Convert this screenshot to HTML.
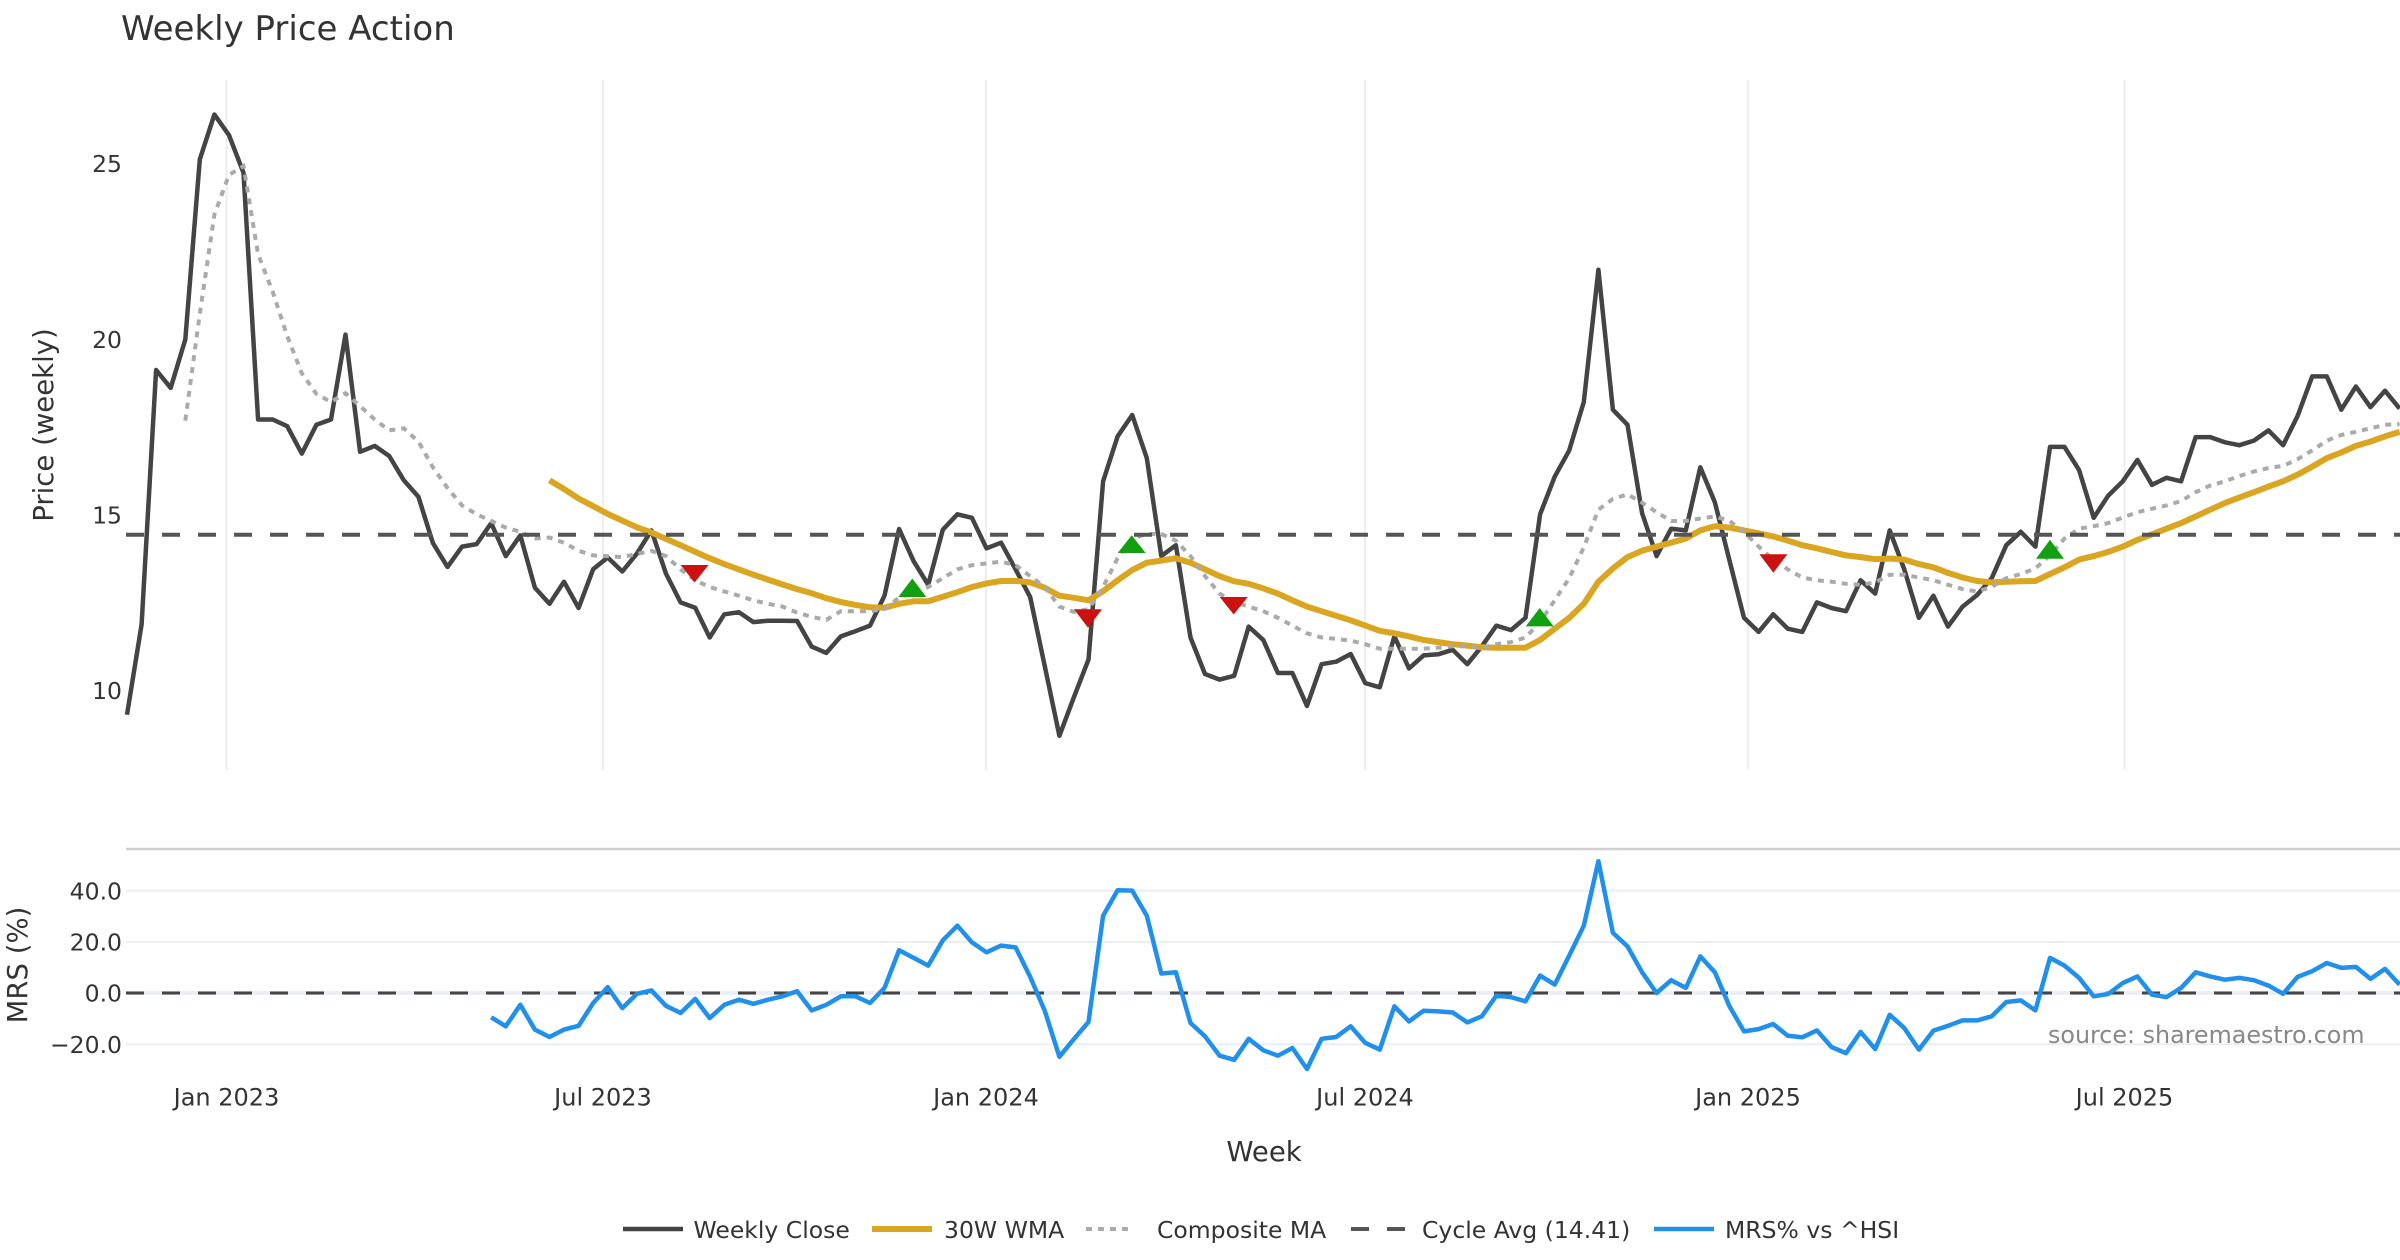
<!DOCTYPE html>
<html>
<head>
<meta charset="utf-8">
<style>
  html,body{margin:0;padding:0;background:#fff;}
  svg{display:block;}
  text{font-family:"DejaVu Sans","Liberation Sans",sans-serif;fill:#333;}
</style>
</head>
<body>
<svg id="chart" width="2400" height="1260" viewBox="0 0 2400 1260" xmlns="http://www.w3.org/2000/svg">
  <rect x="0" y="0" width="2400" height="1260" fill="#fff"/>

  <!-- Title -->
  <text x="121" y="40" font-size="34">Weekly Price Action</text>

  <!-- Top panel vertical gridlines -->
  <g stroke="#ebeef3" stroke-width="2">
    <line x1="226.5" y1="80" x2="226.5" y2="770"/>
    <line x1="603" y1="80" x2="603" y2="770"/>
    <line x1="986" y1="80" x2="986" y2="770"/>
    <line x1="1365" y1="80" x2="1365" y2="770"/>
    <line x1="1748" y1="80" x2="1748" y2="770"/>
    <line x1="2124.5" y1="80" x2="2124.5" y2="770"/>
  </g>

  <!-- Top y tick labels -->
  <g font-size="23.5" text-anchor="end">
    <text x="122" y="172">25</text>
    <text x="122" y="348">20</text>
    <text x="122" y="523.5">15</text>
    <text x="122" y="699">10</text>
  </g>

  <!-- Y axis title top -->
  <text transform="translate(53,425) rotate(-90)" font-size="27.5" text-anchor="middle">Price (weekly)</text>

  <!-- Series top -->
  <path id="pClose" fill="none" stroke="#444444" stroke-width="4.5" stroke-linejoin="round"/>
  <path id="pWma" fill="none" stroke="#DAA520" stroke-width="6" stroke-linejoin="round"/>
  <path id="pComp" fill="none" stroke="#aaaaaa" stroke-width="4" stroke-dasharray="6 6"/>
  <line x1="126" y1="534.8" x2="2400" y2="534.8" stroke="#555555" stroke-width="4" stroke-dasharray="18 18"/>

  <!-- Markers -->
  <g fill="#cc1111">
    <polygon points="680.6,565 708.6,565 694.6,582.5"/>
    <polygon points="1074,609.3 1102,609.3 1088,627.7"/>
    <polygon points="1219.7,597 1247.7,597 1233.7,614.5"/>
    <polygon points="1759.4,554.3 1787.4,554.3 1773.4,572.7"/>
  </g>
  <g fill="#12a012">
    <polygon points="898.3,597 926.3,597 912.3,578.5"/>
    <polygon points="1117.7,553 1145.7,553 1131.7,535.3"/>
    <polygon points="1525.7,626.4 1553.7,626.4 1539.7,608"/>
    <polygon points="2036,558.7 2064,558.7 2050,539.7"/>
  </g>

  <!-- Bottom panel -->
  <line x1="126" y1="849" x2="2400" y2="849" stroke="#d0d0d0" stroke-width="2.5"/>
  <g stroke="#ebeef3" stroke-width="2">
    <line x1="126" y1="890.7" x2="2400" y2="890.7"/>
    <line x1="126" y1="942" x2="2400" y2="942"/>
    <line x1="126" y1="1044.3" x2="2400" y2="1044.3"/>
  </g>
  <line x1="126" y1="993" x2="2400" y2="993" stroke="#ebeef3" stroke-width="4"/>
  <line x1="126" y1="993" x2="2400" y2="993" stroke="#444444" stroke-width="3" stroke-dasharray="18 18"/>

  <g font-size="23.5" text-anchor="end">
    <text x="122" y="899.3">40.0</text>
    <text x="122" y="950.6">20.0</text>
    <text x="122" y="1001.6">0.0</text>
    <text x="122" y="1053">−20.0</text>
  </g>
  <text transform="translate(27,965) rotate(-90)" font-size="27.5" text-anchor="middle">MRS (%)</text>

  <path id="pMrs" fill="none" stroke="#2090ec" stroke-width="4.5" stroke-linejoin="round"/>

  <text x="2048" y="1043" font-size="23.8" style="fill:#888888">source: sharemaestro.com</text>

  <!-- X tick labels -->
  <g font-size="24" text-anchor="middle">
    <text x="226.5" y="1105.5">Jan 2023</text>
    <text x="603" y="1105.5">Jul 2023</text>
    <text x="986" y="1105.5">Jan 2024</text>
    <text x="1365" y="1105.5">Jul 2024</text>
    <text x="1748" y="1105.5">Jan 2025</text>
    <text x="2124.5" y="1105.5">Jul 2025</text>
  </g>
  <text x="1264" y="1161" font-size="27.5" text-anchor="middle">Week</text>

  <!-- Legend -->
  <line x1="623" y1="1229" x2="683" y2="1229" stroke="#444444" stroke-width="4.5"/>
  <text x="693.5" y="1238" font-size="23.5">Weekly Close</text>
  <line x1="872" y1="1229" x2="932" y2="1229" stroke="#DAA520" stroke-width="6"/>
  <text x="944" y="1238" font-size="23.5">30W WMA</text>
  <line x1="1086" y1="1229" x2="1130" y2="1229" stroke="#aaaaaa" stroke-width="4" stroke-dasharray="6 6"/>
  <text x="1157" y="1238" font-size="23.5">Composite MA</text>
  <line x1="1351" y1="1229" x2="1405" y2="1229" stroke="#555555" stroke-width="4" stroke-dasharray="18 18"/>
  <text x="1422" y="1238" font-size="23.5">Cycle Avg (14.41)</text>
  <line x1="1654" y1="1229" x2="1714" y2="1229" stroke="#2090ec" stroke-width="4.5"/>
  <text x="1725" y="1238" font-size="23.5">MRS% vs ^HSI</text>
</svg>
<script>
(function(){
  var X=function(i){return 127+14.568*i;};
  var YT=function(v){return 515-(v-15)*35.1;};
  var YB=function(v){return 993-v*2.56;};
  function mk(arr,start,yf){
    var s='';
    for(var k=0;k<arr.length;k++){
      s+=(k?'L':'M')+X(start+k).toFixed(1)+','+yf(arr[k]).toFixed(1);
    }
    return s;
  }
  var close=[9.31,11.88,19.13,18.62,20.0,25.13,26.41,25.82,24.75,17.72,17.72,17.53,16.75,17.57,17.72,20.14,16.80,16.97,16.68,15.99,
  15.52,14.20,13.52,14.10,14.17,14.77,13.83,14.42,12.93,12.47,13.10,12.35,13.46,13.79,13.39,13.90,14.56,13.33,12.51,12.36,
  11.51,12.17,12.23,11.95,11.99,11.99,11.98,11.25,11.07,11.54,11.69,11.85,12.70,14.60,13.68,13.01,14.58,15.02,14.92,14.05,
  14.21,13.45,12.66,10.69,8.71,9.81,10.88,15.96,17.24,17.85,16.62,13.83,14.14,11.51,10.47,10.31,10.42,11.82,11.44,10.50,
  10.50,9.56,10.75,10.82,11.04,10.21,10.09,11.54,10.63,11.00,11.03,11.16,10.75,11.26,11.85,11.72,12.07,15.02,16.09,16.84,
  18.22,21.99,18.0,17.57,15.05,13.83,14.61,14.56,16.36,15.36,13.7,12.07,11.67,12.17,11.76,11.67,12.51,12.35,12.26,13.14,
  12.76,14.56,13.45,12.07,12.70,11.82,12.39,12.72,13.20,14.14,14.52,14.10,16.94,16.94,16.28,14.92,15.55,15.96,16.57,15.86,
  16.06,15.96,17.22,17.22,17.07,16.99,17.12,17.41,16.99,17.82,18.95,18.95,18.0,18.66,18.07,18.54,18.03];
  var wma=[15.99,15.74,15.47,15.25,15.03,14.84,14.65,14.50,14.32,14.14,13.95,13.77,13.60,13.45,13.30,13.16,13.02,12.89,12.77,12.63,
  12.52,12.44,12.37,12.36,12.47,12.54,12.54,12.67,12.80,12.95,13.05,13.12,13.12,13.08,12.93,12.70,12.64,12.57,12.83,13.14,
  13.43,13.64,13.70,13.77,13.64,13.45,13.26,13.11,13.04,12.91,12.76,12.57,12.39,12.26,12.13,12.00,11.85,11.70,11.63,11.54,
  11.44,11.38,11.32,11.28,11.23,11.22,11.22,11.22,11.44,11.76,12.07,12.47,13.10,13.48,13.80,13.98,14.10,14.21,14.33,14.56,
  14.68,14.64,14.56,14.48,14.39,14.27,14.14,14.05,13.95,13.85,13.80,13.74,13.76,13.73,13.60,13.51,13.35,13.22,13.12,13.08,
  13.10,13.11,13.12,13.32,13.51,13.73,13.83,13.95,14.10,14.29,14.45,14.61,14.77,14.96,15.15,15.34,15.50,15.65,15.81,15.96,
  16.15,16.38,16.62,16.78,16.97,17.09,17.24,17.37];
  var comp=[17.69,20.73,23.56,24.69,24.94,22.43,21.36,20.10,19.04,18.45,18.22,18.47,18.10,17.72,17.41,17.47,17.09,16.36,15.77,15.27,
  15.02,14.83,14.64,14.52,14.33,14.36,14.21,13.98,13.85,13.83,13.80,13.89,13.98,13.83,13.45,13.14,12.95,12.82,12.70,12.57,
  12.47,12.39,12.22,12.10,12.01,12.26,12.26,12.26,12.32,12.65,12.80,12.95,13.2,13.45,13.57,13.62,13.67,13.57,13.26,12.95,
  12.39,12.24,12.32,12.95,13.77,14.33,14.46,14.46,14.27,13.83,13.26,12.76,12.51,12.39,12.26,12.07,11.85,11.63,11.51,11.47,
  11.42,11.32,11.19,11.19,11.19,11.19,11.22,11.26,11.26,11.22,11.32,11.38,11.51,11.95,12.57,13.20,14.08,15.15,15.46,15.59,
  15.35,15.08,14.83,14.83,14.90,14.96,14.83,14.52,14.10,13.73,13.45,13.22,13.14,13.10,13.04,13.01,13.08,13.30,13.30,13.22,
  13.14,13.01,12.89,12.82,12.95,13.20,13.32,13.48,13.85,14.33,14.61,14.68,14.77,14.93,15.08,15.18,15.27,15.40,15.65,15.84,
  15.96,16.11,16.24,16.34,16.40,16.59,16.84,17.12,17.28,17.37,17.47,17.57,17.59];
  var mrs=[-9.5,-13.0,-4.6,-14.3,-17.2,-14.3,-12.8,-3.9,2.3,-5.9,-0.3,1.0,-5.0,-7.8,-2.3,-9.8,-4.6,-2.6,-4.2,-2.6,
  -1.3,0.65,-6.8,-4.6,-1.3,-1.3,-3.9,2.0,16.7,13.7,10.7,20.6,26.3,19.8,15.9,18.5,17.8,6.3,-7.0,-24.9,
  -18.0,-11.3,30.2,40.1,40.0,30.2,7.6,8.1,-11.7,-16.9,-24.5,-26.1,-17.9,-22.4,-24.5,-21.5,-29.7,-17.9,-17.2,-13.0,
  -19.5,-22.1,-5.2,-11.1,-6.9,-7.2,-7.6,-11.5,-9.1,-1.0,-1.6,-3.3,6.8,3.3,14.6,26.3,51.5,23.5,18.2,8.1,
  0.0,5.0,2.0,14.3,8.1,-5.2,-15.0,-14.1,-12.1,-16.7,-17.3,-14.6,-21.1,-23.5,-15.2,-21.9,-8.5,-13.7,-22.1,-14.7,
  -12.8,-10.7,-10.7,-9.1,-3.5,-2.9,-6.8,13.7,10.7,5.9,-1.3,-0.4,3.9,6.5,-0.65,-1.6,2.0,8.1,6.5,5.2,
  5.9,5.0,2.9,-0.3,6.3,8.5,11.7,9.8,10.2,5.5,9.4,3.3];
  document.getElementById('pClose').setAttribute('d',mk(close,0,YT));
  document.getElementById('pWma').setAttribute('d',mk(wma,29,YT));
  document.getElementById('pComp').setAttribute('d',mk(comp,4,YT));
  document.getElementById('pMrs').setAttribute('d',mk(mrs,25,YB));
})();
</script>
</body>
</html>
